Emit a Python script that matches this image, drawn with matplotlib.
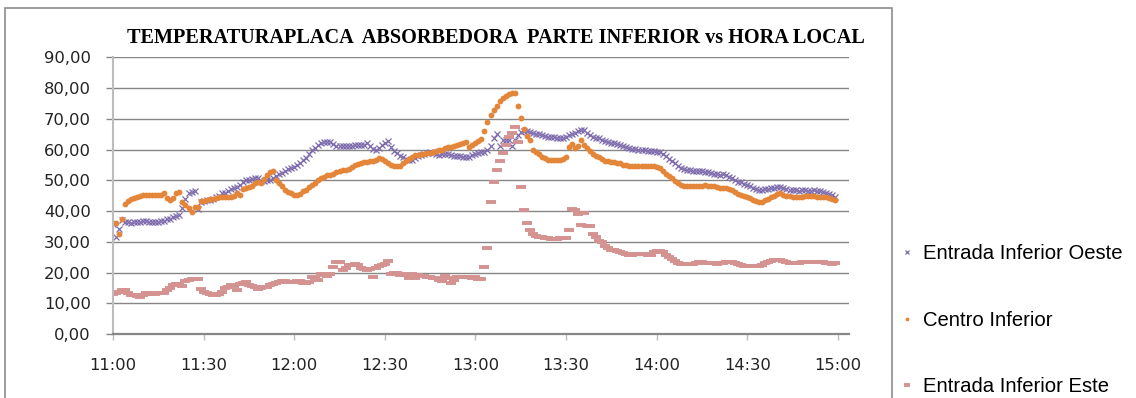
import numpy as np
import pandas as pd
import matplotlib
matplotlib.use('Agg')
from matplotlib import pyplot as plt
import matplotlib.dates as mdates
from matplotlib.patches import Rectangle
from matplotlib.ticker import FuncFormatter, MultipleLocator

# one reading per minute, starting 11:00
hora = pd.date_range('2011-01-01 11:00', periods=240, freq='min')

oeste = [
    35.9, 31.5, 34.2, 37.0, 36.4, 36.3, 36.2, 36.4, 36.4, 36.4,
    36.6, 36.7, 36.5, 36.4, 36.5, 36.4, 36.6, 36.8, 37.3, 37.5,
    38.0, 38.3, 38.6, 41.0, 44.0, 46.0, 46.2, 46.4, 40.8, 43.0,
    43.3, 43.5, 43.5, 43.8, 44.4, 45.0, 45.7, 46.0, 46.5, 47.2,
    47.5, 47.8, 48.5, 49.3, 50.0, 50.2, 50.3, 50.6, 50.8, 49.7,
    49.8, 50.0, 50.0, 50.8, 51.4, 51.9, 52.5, 53.1, 53.6, 54.0,
    54.4, 54.9, 55.7, 56.6, 57.4, 58.6, 59.8, 60.6, 61.4, 62.0,
    62.4, 62.5, 62.3, 61.8, 61.3, 61.2, 61.2, 61.2, 61.2, 61.3,
    61.4, 61.4, 61.4, 61.6, 62.0, 61.2, 60.3, 59.8, 60.6, 61.4,
    62.2, 62.7, 60.9, 59.6, 58.9, 58.0, 57.5, 56.8, 56.5, 56.6,
    57.3, 57.8, 58.3, 58.6, 58.9, 59.1, 59.0, 58.4, 58.3, 58.7,
    58.6, 58.5, 58.3, 58.0, 57.8, 57.8, 57.7, 57.6, 57.7, 58.2,
    58.6, 59.0, 59.2, 59.2, 60.0, 61.1, 63.6, 65.2, 61.2, 63.0,
    63.0, 63.0, 61.2, 63.0, 64.7, 65.8, 65.9, 66.0, 65.7, 65.4,
    65.1, 64.9, 64.7, 64.4, 64.2, 64.0, 64.0, 63.8, 63.8, 63.9,
    64.1, 64.6, 64.9, 65.4, 65.9, 66.4, 66.2, 65.3, 64.8, 64.2,
    63.9, 63.6, 63.2, 62.8, 62.5, 62.2, 62.0, 61.7, 61.4, 61.0,
    60.7, 60.5, 60.3, 60.2, 60.0, 59.9, 59.7, 59.6, 59.5, 59.5,
    59.3, 59.2, 58.6, 57.9, 57.0, 56.3, 55.6, 54.8, 54.1, 53.8,
    53.5, 53.3, 53.1, 53.0, 53.0, 52.9, 52.8, 52.6, 52.4, 52.2,
    51.9, 51.7, 52.2, 51.6, 51.1, 50.6, 50.2, 49.6, 49.3, 48.9,
    48.4, 48.0, 47.6, 47.1, 47.0, 47.0, 47.1, 47.2, 47.4, 47.6,
    47.7, 47.8, 47.4, 47.1, 46.9, 46.7, 46.7, 46.6, 46.7, 46.7,
    46.6, 46.6, 46.7, 46.5, 46.4, 46.2, 45.9, 45.6, 45.2, 44.7,
]

centro = [
    36.0, 36.1, 32.5, 37.3, 42.4, 43.2, 43.8, 44.2, 44.5, 44.8,
    45.2, 45.3, 45.1, 45.1, 45.2, 45.1, 45.3, 45.7, 44.2, 43.5,
    44.2, 45.9, 46.2, 42.9, 41.8, 41.0, 39.7, 41.3, 41.3, 43.2,
    43.3, 43.6, 43.8, 43.9, 44.2, 44.4, 44.6, 44.7, 44.4, 44.6,
    45.0, 46.0, 45.3, 47.3, 47.5, 47.7, 48.0, 49.0, 49.5, 49.1,
    50.5, 51.8, 52.7, 53.0, 50.0, 49.0, 48.0, 46.7, 46.2, 45.7,
    45.3, 45.3, 45.6, 46.4, 47.0, 47.8, 48.6, 49.1, 50.0, 50.6,
    51.1, 51.6, 51.8, 52.2, 52.6, 53.0, 53.3, 53.5, 53.8, 54.3,
    54.9, 55.2, 55.6, 55.8, 56.0, 56.2, 56.4, 56.6, 57.1, 56.8,
    56.2, 55.6, 55.1, 54.7, 54.6, 54.8, 55.6, 56.2, 57.0, 57.6,
    58.2, 58.3, 58.5, 58.7, 58.8, 59.0, 59.2, 59.4, 59.8, 60.0,
    60.4, 60.7, 60.9, 61.2, 61.4, 61.8, 62.0, 62.3, 60.9, 61.5,
    62.0, 62.7, 63.3, 66.0, 68.9, 71.2, 72.8, 74.1, 75.8, 76.8,
    77.4, 78.0, 78.3, 78.5, 74.1, 70.4, 66.8, 64.5, 63.0, 59.8,
    59.3, 58.6, 57.6, 57.1, 56.7, 56.6, 56.5, 56.5, 56.5, 56.8,
    57.6, 60.7, 61.7, 60.5, 61.2, 63.0, 61.4, 60.5, 59.5, 58.4,
    58.0, 57.6, 56.8, 56.3, 56.2, 56.0, 55.8, 55.7, 55.5, 55.1,
    54.9, 54.7, 54.6, 54.6, 54.6, 54.6, 54.6, 54.6, 54.7, 54.7,
    54.4, 54.0, 53.0, 52.2, 51.4, 50.7, 49.8, 49.2, 48.6, 48.3,
    48.0, 48.0, 48.0, 48.1, 48.2, 48.3, 48.4, 48.3, 48.2, 48.0,
    47.7, 47.5, 47.6, 47.5, 47.1, 46.7, 46.2, 45.6, 45.1, 44.8,
    44.6, 44.2, 43.7, 43.3, 42.9, 43.0, 43.6, 44.0, 44.6, 45.0,
    45.4, 45.7, 45.3, 45.0, 44.8, 44.6, 44.6, 44.6, 44.7, 44.8,
    44.8, 44.8, 44.8, 44.7, 44.6, 44.5, 44.4, 44.2, 43.9, 43.6,
]

este = [
    13.0, 13.4, 13.6, 14.4, 14.2, 13.2, 12.8, 12.7, 12.4, 11.9,
    12.6, 13.3, 13.4, 13.1, 13.0, 13.3, 13.4, 13.4, 14.2, 15.0,
    15.8, 16.3, 16.2, 15.6, 17.2, 17.6, 17.9, 17.9, 17.9, 14.6,
    13.5, 13.3, 12.9, 12.8, 12.8, 12.9, 13.6, 14.8, 15.3, 15.8,
    15.7, 14.3, 16.3, 16.7, 16.8, 16.0, 15.5, 15.2, 14.7, 14.8,
    15.2, 15.4, 15.8, 16.2, 16.7, 16.9, 17.3, 17.3, 16.9, 16.8,
    17.0, 17.4, 17.1, 16.5, 16.6, 16.9, 18.5, 18.2, 17.7, 19.6,
    19.2, 19.0, 19.4, 21.7, 23.4, 23.3, 20.7, 21.5, 22.3, 22.6,
    22.8, 22.3, 21.5, 21.2, 20.7, 21.3, 18.7, 21.6, 22.0, 22.6,
    22.9, 23.6, 19.6, 19.8, 19.8, 19.2, 19.5, 19.3, 18.2, 19.4,
    18.2, 19.2, 19.0, 19.0, 18.7, 18.6, 18.3, 18.2, 17.7, 17.4,
    18.8, 18.1, 16.6, 17.5, 18.5, 18.5, 18.4, 18.5, 18.4, 18.2,
    18.6, 18.0, 17.9, 21.7, 28.0, 42.8, 49.5, 53.5, 56.2, 59.0,
    61.6, 64.1, 65.4, 67.4, 62.5, 47.8, 40.2, 36.1, 33.9, 32.6,
    32.0, 31.7, 31.4, 31.3, 31.2, 31.0, 31.0, 31.0, 31.1, 31.3,
    31.3, 33.9, 40.5, 40.4, 39.1, 35.5, 39.5, 35.1, 35.0, 32.6,
    31.6, 30.2, 29.9, 28.6, 28.0, 27.4, 27.2, 27.0, 26.7, 26.4,
    26.0, 25.6, 25.6, 25.9, 26.0, 26.0, 25.9, 25.8, 25.8, 26.6,
    27.0, 27.0, 26.6, 25.7, 25.0, 24.3, 23.6, 23.2, 22.9, 22.8,
    22.7, 22.7, 22.8, 23.2, 23.3, 23.3, 23.0, 23.0, 23.2, 23.0,
    22.7, 23.0, 23.2, 23.3, 23.3, 23.5, 23.0, 22.8, 22.5, 22.2,
    22.1, 22.1, 22.1, 22.2, 22.1, 22.4, 23.0, 23.3, 23.7, 24.0,
    24.2, 24.1, 23.7, 23.4, 23.1, 23.0, 23.1, 23.2, 23.3, 23.4,
    23.4, 23.4, 23.4, 23.4, 23.4, 23.3, 23.2, 23.0, 22.8, 23.0,
]

nombres = ['Entrada Inferior Oeste', 'Centro Inferior', 'Entrada Inferior Este']
colores = ['#7D6BAD', '#E3863A', '#D49391']

W, H = 1136, 398
fig = plt.figure(figsize=(W / 100, H / 100), dpi=100)

# outer chart frame (bottom runs off the picture)
fig.patches.append(Rectangle((5 / W, -0.05), (892 - 5) / W, 1.05 - 8 / H,
                             transform=fig.transFigure, fill=False,
                             edgecolor='#8C8C8C', lw=1.2))

ax = fig.add_axes([113 / W, (H - 334) / H, (849 - 113) / W, (334 - 57.3) / H])

ax.plot(hora, oeste, linestyle='none', marker='x', ms=4.0, mew=0.9,
        color=colores[0], label=nombres[0])
ax.plot(hora, centro, linestyle='none', marker='o', ms=4.2, mew=0,
        color=colores[1], label=nombres[1])
ax.plot(hora, este, linestyle='none', marker='_', ms=6.5, mew=2.8,
        color=colores[2], label=nombres[2])

t0 = mdates.date2num(pd.Timestamp('2011-01-01 11:00'))
ax.set_xlim(t0, t0 + 243.7 / 1440)
ax.set_ylim(0, 90)

ax.xaxis.set_major_locator(mdates.MinuteLocator(byminute=[0, 30]))
ax.xaxis.set_major_formatter(mdates.DateFormatter('%H:%M'))
ax.yaxis.set_major_locator(MultipleLocator(10))
ax.yaxis.set_major_formatter(FuncFormatter(lambda v, p: f'{v:.2f}'.replace('.', ',')))

ax.grid(axis='y', color='#868686', lw=1)
ax.set_axisbelow(True)
for s in ['top', 'right']:
    ax.spines[s].set_visible(False)
ax.spines['left'].set_color('#BDBDBD')
ax.spines['left'].set_linewidth(1.5)
ax.spines['bottom'].set_color('#868686')
ax.spines['bottom'].set_linewidth(1.6)
ax.tick_params(axis='y', length=5, width=1, color='#868686', pad=11,
               labelsize=11.8, labelcolor='#222222')
ax.tick_params(axis='x', length=4, width=1, color='#BDBDBD', pad=13,
               labelsize=11.8, labelcolor='#222222')

fig.text(496 / W, 1 - 38 / H,
         'TEMPERATURAPLACA  ABSORBEDORA  PARTE INFERIOR vs HORA LOCAL',
         ha='center', va='center', family='Liberation Serif',
         weight='bold', fontsize=14.6)

leg = ax.legend(loc='upper left', bbox_to_anchor=(893 / W, 1 - 236 / H),
                bbox_transform=fig.transFigure, frameon=False,
                prop={'family': 'Liberation Sans', 'size': 14.6},
                handlelength=0.6, handletextpad=0.5, labelspacing=2.35,
                markerscale=0.65, borderaxespad=0)

fig.savefig('out.png', dpi=100)
